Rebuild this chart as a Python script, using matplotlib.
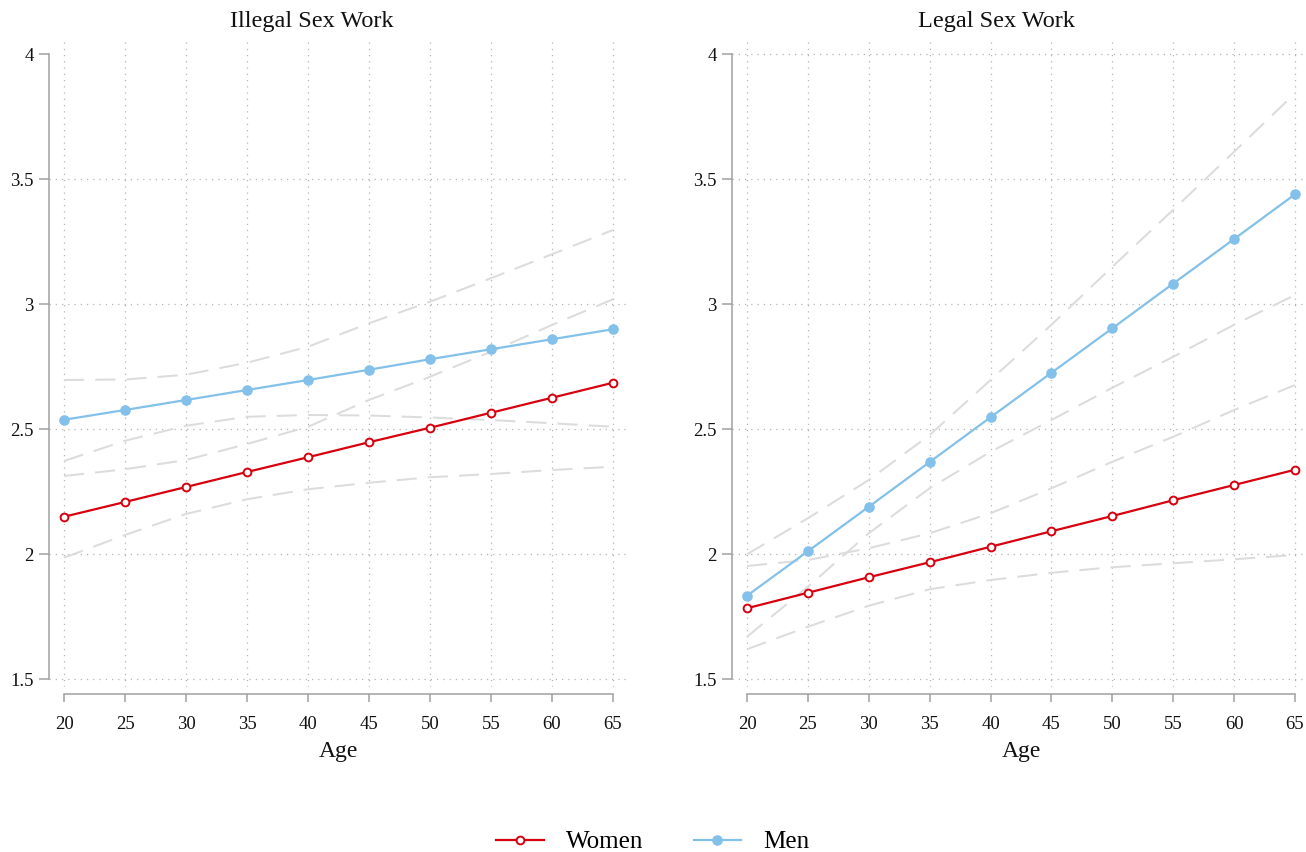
import matplotlib
matplotlib.use("Agg")
import matplotlib.pyplot as plt
from matplotlib.lines import Line2D

plt.rcParams['font.family'] = ['Liberation Serif', 'DejaVu Serif']

ages = [20, 25, 30, 35, 40, 45, 50, 55, 60, 65]
yticks = [1.5, 2, 2.5, 3, 3.5, 4]
ytick_labels = ['1.5', '2', '2.5', '3', '3.5', '4']
panel_titles = ['Illegal Sex Work', 'Legal Sex Work']

# illegal sex work
ill_women = [2.150, 2.209, 2.269, 2.329, 2.388, 2.448, 2.506, 2.566, 2.626, 2.686]
ill_women_lo = [1.986, 2.077, 2.161, 2.220, 2.260, 2.286, 2.308, 2.321, 2.337, 2.350]
ill_women_hi = [2.313, 2.340, 2.377, 2.441, 2.510, 2.617, 2.710, 2.810, 2.917, 3.020]
ill_men = [2.538, 2.577, 2.617, 2.657, 2.697, 2.738, 2.780, 2.820, 2.860, 2.900]
ill_men_lo = [2.373, 2.454, 2.514, 2.550, 2.557, 2.555, 2.547, 2.537, 2.524, 2.510]
ill_men_hi = [2.697, 2.699, 2.718, 2.766, 2.830, 2.924, 3.010, 3.104, 3.200, 3.297]

# legal sex work
leg_women = [1.784, 1.846, 1.908, 1.968, 2.030, 2.092, 2.153, 2.216, 2.277, 2.338]
leg_women_lo = [1.620, 1.710, 1.794, 1.860, 1.897, 1.926, 1.948, 1.964, 1.980, 1.997]
leg_women_hi = [1.953, 1.977, 2.024, 2.084, 2.164, 2.264, 2.370, 2.470, 2.577, 2.677]
leg_men = [1.834, 2.012, 2.190, 2.369, 2.548, 2.726, 2.904, 3.083, 3.261, 3.440]
leg_men_lo = [1.670, 1.870, 2.084, 2.264, 2.410, 2.537, 2.666, 2.790, 2.918, 3.037]
leg_men_hi = [2.000, 2.144, 2.297, 2.477, 2.697, 2.918, 3.150, 3.378, 3.610, 3.844]

RED = '#d7000f'
BLUE = '#83c0ea'
CI = '#dcdcdc'
AXC = '#a0a0a0'

W, H = 1306, 852
fig = plt.figure(figsize=(W / 100, H / 100), dpi=100)

def px_rect(x0, x1, ytop, ybot):
    return [x0 / W, (H - ybot) / H, (x1 - x0) / W, (ybot - ytop) / H]

panels = [
    dict(rect=px_rect(49, 627, 40, 687), xlim=(18.77, 66.15), grid4=False,
         data=(ill_women, ill_women_lo, ill_women_hi, ill_men, ill_men_lo, ill_men_hi),
         title_x=312, label_x=338),
    dict(rect=px_rect(732, 1306, 40, 687), xlim=(18.768, 65.9), grid4=True,
         data=(leg_women, leg_women_lo, leg_women_hi, leg_men, leg_men_lo, leg_men_hi),
         title_x=996, label_x=1021),
]

for i, p in enumerate(panels):
    ax = fig.add_axes(p['rect'])
    w, wlo, whi, m, mlo, mhi = p['data']
    for ci in (wlo, whi, mlo, mhi):
        ax.plot(ages, ci, color=CI, lw=1.45, ls=(0, (10, 5.5)), zorder=2)
    ax.plot(ages, w, color=RED, lw=1.6, marker='o', ms=5.6, mfc='white',
            mec=RED, mew=1.4, zorder=4)
    ax.plot(ages, m, color=BLUE, lw=1.6, marker='o', ms=6.6, mfc=BLUE,
            mec=BLUE, zorder=3)

    ax.set_xlim(*p['xlim'])
    ax.set_ylim(1.469, 4.057)
    ax.set_xticks(ages)
    ax.set_xticklabels([str(a) for a in ages])
    ax.set_yticks(yticks)
    ax.set_yticklabels(ytick_labels)

    ax.grid(True, ls=(0, (1, 4)), color='#b4b4b4', lw=0.9, zorder=0)
    if not p['grid4']:
        ax.get_ygridlines()[-1].set_visible(False)

    for s in ('top', 'right'):
        ax.spines[s].set_visible(False)
    ax.spines['left'].set_bounds(1.5, 4)
    ax.spines['bottom'].set_bounds(20, 65)
    ax.spines['bottom'].set_position(('outward', 5))
    for s in ('left', 'bottom'):
        ax.spines[s].set_color(AXC)
        ax.spines[s].set_linewidth(1.1)
    ax.tick_params(axis='y', length=7, width=1.1, color=AXC, pad=4,
                   labelsize=13.5, labelcolor='#111111')
    ax.tick_params(axis='x', length=6, width=1.1, color=AXC, pad=10,
                   labelsize=13.5, labelcolor='#111111')

    fig.text(p['title_x'] / W, 1 - 22 / H, panel_titles[i], ha='center',
             va='center', fontsize=17.5, color='#111111')
    fig.text(p['label_x'] / W, 1 - 751 / H, 'Age', ha='center', va='center',
             fontsize=17, color='#111111')

handles = [
    Line2D([], [], color=RED, lw=1.6, marker='o', ms=5.6, mfc='white', mec=RED, mew=1.4),
    Line2D([], [], color=BLUE, lw=1.6, marker='o', ms=6.6, mfc=BLUE, mec=BLUE),
]
fig.legend(handles, ['Women', 'Men'], loc='center', bbox_to_anchor=(653 / W, 1 - 842 / H),
           ncol=2, frameon=False, fontsize=18, handlelength=1.9, handletextpad=0.9,
           columnspacing=2.0, borderpad=0)

fig.savefig('out.png', dpi=100, facecolor='white')
